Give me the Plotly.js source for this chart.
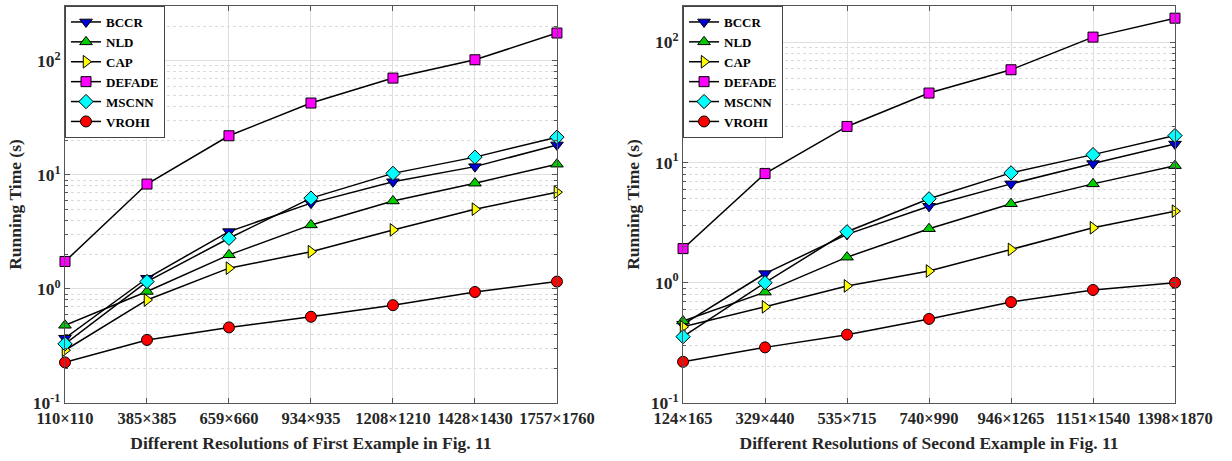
<!DOCTYPE html>
<html>
<head>
<meta charset="utf-8">
<script src="https://cdn.plot.ly/plotly-3.0.1.min.js"></script>
<style>html,body{margin:0;padding:0;background:#fff;}#chart{width:1232px;height:461px;}</style>
</head>
<body>
<div id="chart"></div>
<script>
// Categories (resolutions)
const resFirst = ['110×110','385×385','659×660','934×935','1208×1210','1428×1430','1757×1760'];
const resSecond = ['124×165','329×440','535×715','740×990','946×1265','1151×1540','1398×1870'];

// Method names
const methods = ['BCCR','NLD','CAP','DEFADE','MSCNN','VROHI'];

// Running times (s) - first example
const bccrFirst   = [0.37, 1.24, 3.18, 5.65, 8.7, 11.8, 18.3];
const nldFirst    = [0.48, 0.95, 1.99, 3.64, 5.9, 8.45, 12.4];
const capFirst    = [0.29, 0.80, 1.52, 2.12, 3.29, 5.0, 7.05];
const defadeFirst = [1.74, 8.3, 22, 42.6, 70.5, 102, 175];
const mscnnFirst  = [0.33, 1.16, 2.78, 6.25, 10.3, 14.3, 21.4];
const vrohiFirst  = [0.227, 0.357, 0.46, 0.57, 0.72, 0.94, 1.16];

// Running times (s) - second example
const bccrSecond   = [0.45, 1.19, 2.52, 4.32, 6.63, 9.78, 14.2];
const nldSecond    = [0.48, 0.835, 1.63, 2.81, 4.53, 6.63, 9.4];
const capSecond    = [0.43, 0.63, 0.94, 1.25, 1.89, 2.86, 3.93];
const defadeSecond = [1.92, 8.07, 19.9, 37.7, 58.9, 110, 158];
const mscnnSecond  = [0.356, 1.0, 2.65, 4.98, 8.18, 11.6, 16.7];
const vrohiSecond  = [0.22, 0.29, 0.37, 0.50, 0.69, 0.87, 1.0];

// Y tick labels
const yTickVals = [0.1, 1, 10, 100];
const yTickText = ['10<sup>-1</sup>','10<sup>0</sup>','10<sup>1</sup>','10<sup>2</sup>'];

const styles = {
  BCCR:   {symbol:'triangle-down', color:'#0000d8'},
  NLD:    {symbol:'triangle-up',   color:'#00cc00'},
  CAP:    {symbol:'triangle-right',color:'#ffff00'},
  DEFADE: {symbol:'square',        color:'#ff00ff'},
  MSCNN:  {symbol:'diamond',       color:'#00ffff'},
  VROHI:  {symbol:'circle',        color:'#ff0000'}
};

const firstData = [bccrFirst, nldFirst, capFirst, defadeFirst, mscnnFirst, vrohiFirst];
const secondData = [bccrSecond, nldSecond, capSecond, defadeSecond, mscnnSecond, vrohiSecond];

const traces = [];
function addTraces(cats, dataArr, xa, ya, leg) {
  methods.forEach((m, i) => {
    const s = styles[m];
    traces.push({
      type: 'scatter', mode: 'lines+markers', name: m,
      x: cats, y: dataArr[i], xaxis: xa, yaxis: ya, legend: leg,
      cliponaxis: false,
      line: {color: '#000', width: 1.5},
      marker: {symbol: s.symbol, color: s.color, size: s.symbol === 'square' ? 10 : 11,
               line: {color: '#000', width: 1}}
    });
  });
}
addTraces(resFirst, firstData, 'x', 'y', 'legend');
addTraces(resSecond, secondData, 'x2', 'y2', 'legend2');

// minor grid positions (2..9 in each decade)
const minorVals = [];
for (let e = -1; e <= 2; e++) for (let k = 2; k <= 9; k++) minorVals.push(k * Math.pow(10, e));

const txt = '#262626';
const font = {family: 'Liberation Serif, Times New Roman, serif', size: 16, color: txt, weight: 'bold'};

function xAxis(cats, title, anchor, domain) {
  return {
    type: 'category', domain: domain, anchor: anchor, range: [0, cats.length - 1],
    showgrid: true, gridcolor: '#dedede', gridwidth: 1,
    showline: true, linecolor: '#555', linewidth: 1, mirror: 'ticks',
    ticks: 'inside', ticklen: 5, tickcolor: '#555',
    tickfont: {family: font.family, size: 16.5, color: txt, weight: 'bold'},
    title: {text: title, font: {family: font.family, size: 17.5, color: txt, weight: 'bold'}, standoff: 9},
    zeroline: false
  };
}
function yAxis(range, anchor) {
  return {
    type: 'log', anchor: anchor, domain: [0, 1], range: range,
    tickmode: 'array', tickvals: yTickVals, ticktext: yTickText,
    showgrid: true, gridcolor: '#dedede', gridwidth: 1,
    minor: {tickmode: 'array', tickvals: minorVals, showgrid: true, gridcolor: '#dadada', griddash: 'dot', gridwidth: 1,
            ticks: 'inside', ticklen: 3, tickcolor: '#555'},
    showline: true, linecolor: '#555', linewidth: 1, mirror: 'ticks',
    ticks: 'inside', ticklen: 5, tickcolor: '#555',
    tickfont: {family: font.family, size: 17.5, color: txt, weight: 'bold'},
    title: {text: 'Running Time (s)', font: {family: font.family, size: 17.5, color: txt, weight: 'bold'}, standoff: 6},
    zeroline: false
  };
}

const legendBase = {
  xanchor: 'left', yanchor: 'top', y: 1,
  bgcolor: '#fff', bordercolor: '#444', borderwidth: 1,
  font: {family: font.family, size: 13, color: '#000', weight: 'bold'},
  tracegroupgap: 0, itemwidth: 30
};

const layout = {
  width: 1232, height: 461,
  margin: {l: 65, r: 57, t: 6, b: 58},
  paper_bgcolor: '#fff', plot_bgcolor: '#fff',
  font: font,
  showlegend: true,
  xaxis: xAxis(resFirst, 'Different Resolutions of First Example in Fig. 11', 'y', [0, 0.4432]),
  yaxis: yAxis([-1, 2.48], 'x'),
  xaxis2: xAxis(resSecond, 'Different Resolutions of Second Example in Fig. 11', 'y2', [0.5568, 1]),
  yaxis2: yAxis([-1, 2.30], 'x2'),
  legend: Object.assign({}, legendBase, {x: 0, xref: 'paper'}),
  legend2: Object.assign({}, legendBase, {x: 0.5568, xref: 'paper'})
};

Plotly.newPlot('chart', traces, layout, {displayModeBar: false, staticPlot: true});
</script>
</body>
</html>
